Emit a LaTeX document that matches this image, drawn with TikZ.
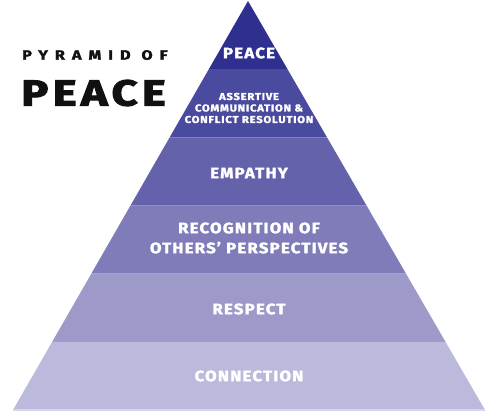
\documentclass[tikz,border=0pt]{standalone}
\usepackage{fontspec}
\setmainfont{Fira Sans}
\newfontfamily\lblfont{Fira Sans}[LetterSpace=8,FakeStretch=1.12,BoldFeatures={FakeBold=2}]
\newfontfamily\titlefont{Fira Sans}[LetterSpace=52,FakeStretch=1.2,BoldFeatures={FakeBold=2}]
\newfontfamily\bigtitlefont{Fira Sans}[LetterSpace=12,FakeStretch=1.26,BoldFeatures={FakeBold=3}]
\usetikzlibrary{calc}
\definecolor{cA}{HTML}{2F2F8F}
\definecolor{cB}{HTML}{4A4A9E}
\definecolor{cC}{HTML}{6462AB}
\definecolor{cD}{HTML}{7F7CB9}
\definecolor{cE}{HTML}{9D9ACA}
\definecolor{cF}{HTML}{BBB9DC}
\definecolor{ink}{HTML}{111111}
\begin{document}
\begin{tikzpicture}[x=1pt,y=-1pt,
  lbl/.style={text=white,font=\lblfont\bfseries\fontsize{15}{18}\selectfont,inner sep=0pt,align=center},
  small/.style={text=white,font=\lblfont\bfseries\fontsize{10}{11.5}\selectfont,inner sep=0pt,align=center},
  title/.style={text=ink,inner sep=0pt,anchor=west}]
\useasboundingbox (0,0) rectangle (497,415);
\fill[white] (0,0) rectangle (497,415);
\coordinate (A) at (248,1);
\coordinate (L) at (13,410);
\coordinate (R) at (485,410);
\foreach \k/\c in {0/cA,1/cB,2/cC,3/cD,4/cE,5/cF}{
  \pgfmathsetmacro{\ta}{\k/6}
  \pgfmathsetmacro{\tb}{(\k+1)/6}
  \fill[\c] ($(A)!\ta!(L)$) -- ($(A)!\tb!(L)$) -- ($(A)!\tb!(R)$) -- ($(A)!\ta!(R)$) -- cycle;
}
\draw[color=cF!60!white,line width=1.2pt] (L) -- (R);
\node[lbl] (peace) at (249,53) {PEACE};
\node[small] (assert) at (249,108) {ASSERTIVE\\COMMUNICATION \&\\CONFLICT RESOLUTION};
\node[lbl] (empathy) at (249,173) {EMPATHY};
\node[lbl] (recog) at (249,238) {RECOGNITION OF\\[2pt]OTHERS’ PERSPECTIVES};
\node[lbl] (respect) at (249,309) {RESPECT};
\node[lbl] (connection) at (249,376) {CONNECTION};
\node[title,font=\titlefont\bfseries\fontsize{13.5}{16}\selectfont] (t1) at (22,55) {PYRAMID OF};
\node[title,font=\bigtitlefont\bfseries\fontsize{36}{40}\selectfont] (t2) at (21,93) {PEACE};
\end{tikzpicture}
\end{document}
